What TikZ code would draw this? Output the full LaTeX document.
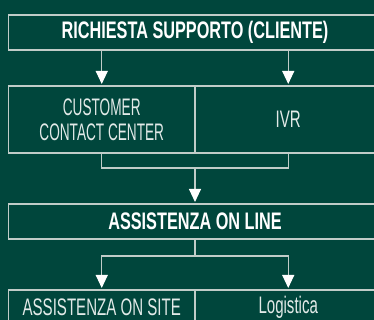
\documentclass[tikz,border=0pt]{standalone}
\usepackage{fontspec}
\setmainfont{Liberation Sans}
\newfontfamily\fntB{Liberation Sans}[FakeStretch=0.68]
\newfontfamily\fntR{Liberation Sans}[FakeStretch=0.63]
\newfontfamily\fntN{Liberation Sans}[FakeStretch=0.57]
\usetikzlibrary{arrows.meta}
\definecolor{bg}{HTML}{00463C}
\definecolor{ln}{HTML}{C0CCC8}
\definecolor{txt}{HTML}{E2EAE8}
\begin{document}
\begin{tikzpicture}[x=1bp,y=-1bp,
  box/.style={draw=ln,line width=1.1bp,inner sep=0pt,minimum height=35bp,align=center},
  boldtxt/.style={text=white,font=\fntB\bfseries\fontsize{24}{28}\selectfont},
  regtxt/.style={text=txt,font=\fntR\fontsize{24}{25}\selectfont},
  narrtxt/.style={text=txt,font=\fntN\fontsize{24}{25}\selectfont},
  conn/.style={draw=ln,line width=1.1bp},
  arr/.style={conn,-{Triangle[width=12bp,length=13bp,color=white]},shorten >=1.5bp}]
\useasboundingbox (0,0) rectangle (374,320);
\clip (0,0) rectangle (374,320);
\fill[bg] (0,0) rectangle (374,320);
% boxes
\node[box,boldtxt,minimum width=373bp] (top) at (195,32.5) {RICHIESTA SUPPORTO (CLIENTE)};
\node[box,narrtxt,minimum width=186.5bp,minimum height=67bp] (cc) at (101.75,119.5) {CUSTOMER\\CONTACT CENTER};
\node[box,regtxt,minimum width=186.5bp,minimum height=67bp] (ivr) at (288.25,119.5) {IVR};
\node[box,boldtxt,minimum width=373bp] (online) at (195,221.5) {ASSISTENZA ON LINE};
\node[box,regtxt,minimum width=186.5bp] (site) at (101.75,307.5) {ASSISTENZA ON SITE};
\node[box,regtxt,minimum width=186.5bp] (logi) at (288.25,307.5) {Logistica};
% connectors
\draw[arr] (top.south -| cc) -- (cc.north);
\draw[arr] (top.south -| ivr) -- (ivr.north);
\coordinate (j1) at (195,168);
\draw[conn] (cc.south) -- (cc.south |- j1) -- (ivr.south |- j1) -- (ivr.south);
\draw[arr] (j1) -- (online.north);
\coordinate (j2) at (195,256);
\draw[conn] (online.south) -- (j2);
\draw[arr] (j2) -| (site.north);
\draw[arr] (j2) -| (logi.north);
\end{tikzpicture}
\end{document}
